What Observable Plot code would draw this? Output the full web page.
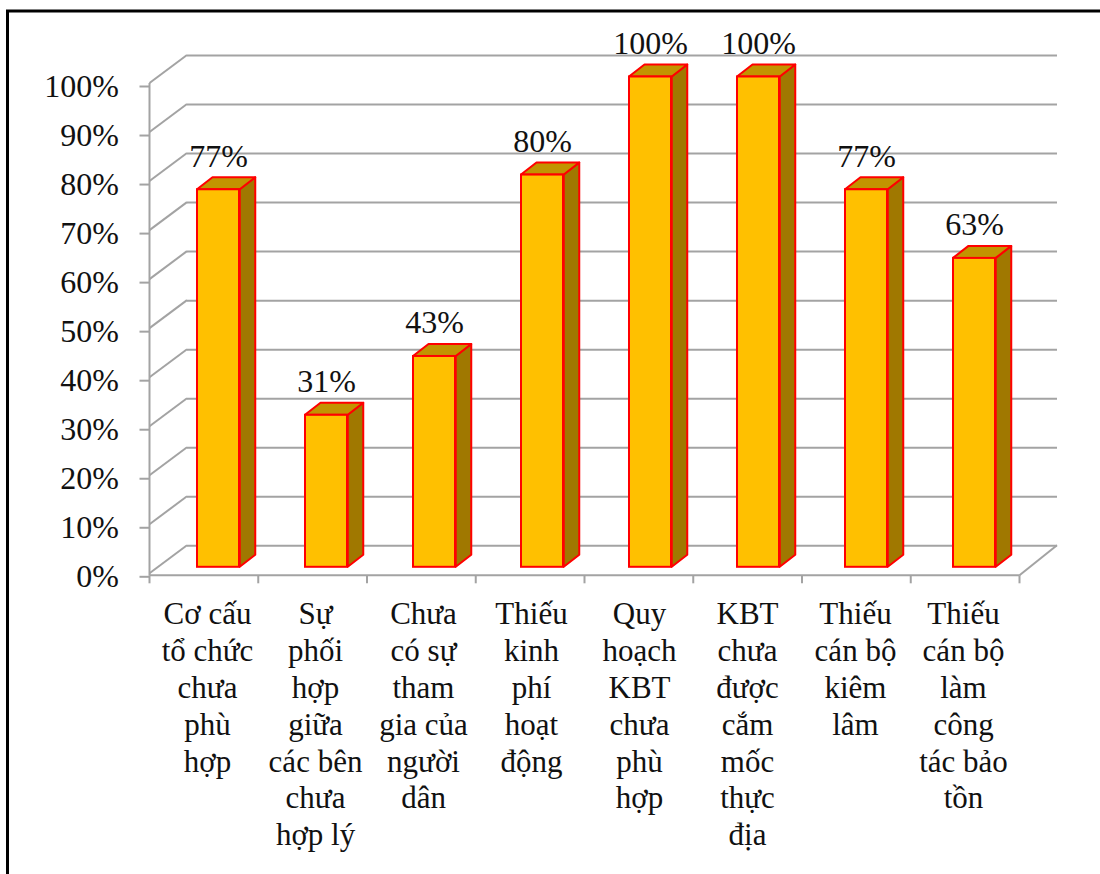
<!DOCTYPE html>
<html>
<head>
<meta charset="utf-8">
<script src="https://cdn.jsdelivr.net/npm/d3@7"></script>
<script src="https://cdn.jsdelivr.net/npm/@observablehq/plot@0.6"></script>
<style>
  html, body { margin: 0; padding: 0; background: #fff; overflow: hidden; }
  #chart { position: absolute; left: 0; top: 0; }
</style>
</head>
<body>
<div id="chart"></div>
<script>
// ---- data ----
const categories = [
  "Cơ cấu\ntổ chức\nchưa\nphù\nhợp",
  "Sự\nphối\nhợp\ngiữa\ncác bên\nchưa\nhợp lý",
  "Chưa\ncó sự\ntham\ngia của\nngười\ndân",
  "Thiếu\nkinh\nphí\nhoạt\nđộng",
  "Quy\nhoạch\nKBT\nchưa\nphù\nhợp",
  "KBT\nchưa\nđược\ncắm\nmốc\nthực\nđịa",
  "Thiếu\ncán bộ\nkiêm\nlâm",
  "Thiếu\ncán bộ\nlàm\ncông\ntác bảo\ntồn"
];
const values = [0.77, 0.31, 0.43, 0.80, 1.00, 1.00, 0.77, 0.63];
const yTicks = [0, 0.1, 0.2, 0.3, 0.4, 0.5, 0.6, 0.7, 0.8, 0.9, 1.0];
const yTickLabels = ["0%", "10%", "20%", "30%", "40%", "50%", "60%", "70%", "80%", "90%", "100%"];

const table = categories.map((c, i) => ({cat: c, value: values[i]}));

// ---- 3D look parameters (pixels) ----
const WALL_DX = 37.5, WALL_DY = -28;
const BAR_DX = 11, BAR_DY = -6.5;
const BAR_DEPTH_X = 15.5, BAR_DEPTH_Y = -12;
const BAR_INSET = 33;
const GRID = "#a3a3a3";
const FRONT = "#FFC000", SIDE = "#A07800", TOP = "#C29400", EDGE = "#FF0000";

function walls(index, scales, values, dim) {
  const g = d3.create("svg:g").attr("fill", "none").attr("stroke", GRID).attr("stroke-width", 2);
  const x0 = dim.marginLeft, x1 = dim.width - dim.marginRight;
  const y = scales.y;
  const y0 = y(0);
  for (const v of yTicks) {
    g.append("line").attr("x1", x0).attr("y1", y(v)).attr("x2", x0 + WALL_DX).attr("y2", y(v) + WALL_DY);
  }
  g.append("line").attr("x1", x0).attr("y1", y(1)).attr("x2", x0).attr("y2", y0 + 2);
  g.append("line").attr("x1", x0).attr("y1", y0 + 2).attr("x2", x1).attr("y2", y0 + 2);
  g.append("line").attr("x1", x1).attr("y1", y0 + 2).attr("x2", x1 + WALL_DX).attr("y2", y0 + WALL_DY);
  const bw = (x1 - x0) / categories.length;
  for (let i = 0; i <= categories.length; i++) {
    const xx = x0 + i * bw;
    g.append("line").attr("x1", xx).attr("y1", y0 + 2).attr("x2", xx).attr("y2", y0 + 10);
  }
  return g.node();
}

function barDepth(index, scales, values, dim) {
  const g = d3.create("svg:g").attr("stroke", EDGE).attr("stroke-width", 2).attr("stroke-linejoin", "round");
  const x0 = dim.marginLeft, x1 = dim.width - dim.marginRight;
  const bw = (x1 - x0) / categories.length;
  const y = scales.y;
  for (const d of table) {
    const L = scales.x(d.cat) + BAR_INSET + BAR_DX;
    const R = scales.x(d.cat) + bw - BAR_INSET + BAR_DX;
    const B = y(0) + BAR_DY;
    const T = y(d.value) + BAR_DY;
    g.append("path").attr("fill", SIDE)
      .attr("d", `M${R},${B}L${R + BAR_DEPTH_X},${B + BAR_DEPTH_Y}L${R + BAR_DEPTH_X},${T + BAR_DEPTH_Y}L${R},${T}Z`);
    g.append("path").attr("fill", TOP)
      .attr("d", `M${L},${T}L${L + BAR_DEPTH_X},${T + BAR_DEPTH_Y}L${R + BAR_DEPTH_X},${T + BAR_DEPTH_Y}L${R},${T}Z`);
  }
  return g.node();
}

function frameBorder(index, scales, values, dim) {
  const g = d3.create("svg:g");
  g.append("rect").attr("x", 7.5).attr("y", 11).attr("width", dim.width + 50).attr("height", dim.height + 50)
    .attr("fill", "none").attr("stroke", "#000").attr("stroke-width", 3);
  return g.node();
}

const chart = Plot.plot({
  width: 1100,
  height: 874,
  marginLeft: 149.5,
  marginRight: 80.5,
  marginTop: 83,
  marginBottom: 300.7,
  style: {fontFamily: "'Liberation Serif', 'Times New Roman', serif", background: "#fff", color: "#111"},
  x: {type: "band", domain: categories, padding: 0, axis: null},
  y: {domain: [0, 1], axis: null},
  marks: [
    Plot.ruleY(yTicks, {dx: WALL_DX, dy: WALL_DY, stroke: GRID, strokeWidth: 2}),
    walls,
    Plot.axisY(yTicks, {
      tickSize: 10, tickPadding: 21, stroke: GRID, strokeWidth: 2, strokeOpacity: 1,
      tickFormat: (d) => yTickLabels[yTicks.indexOf(d)], fontSize: 32, fill: "#111", dy: 3, label: null
    }),
    Plot.axisX({
      tickSize: 0, tickPadding: 24, fontSize: 31, lineHeight: 1.19, fill: "#111", label: null
    }),
    barDepth,
    Plot.barY(table, {
      x: "cat", y: "value", fill: FRONT, stroke: EDGE, strokeWidth: 2,
      insetLeft: BAR_INSET, insetRight: BAR_INSET, dx: BAR_DX, dy: BAR_DY
    }),
    Plot.text(table, {
      x: "cat", y: "value", text: d => d3.format(".0%")(d.value),
      dx: BAR_DX, dy: -40, fontSize: 32, fill: "#111"
    }),
    frameBorder
  ]
});
document.getElementById("chart").appendChild(chart);
</script>
</body>
</html>
